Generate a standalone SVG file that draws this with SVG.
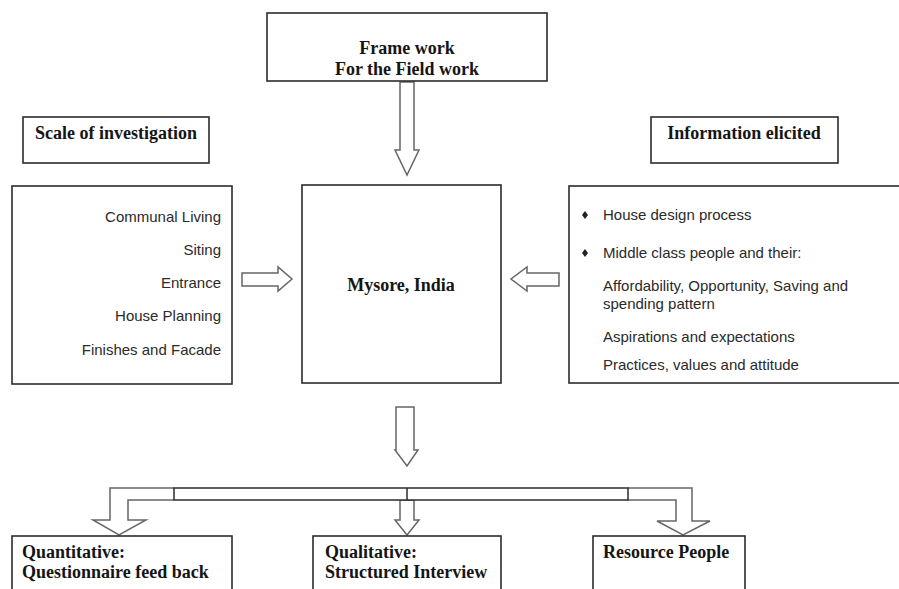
<svg xmlns="http://www.w3.org/2000/svg" width="899" height="589" viewBox="0 0 899 589">
  <style>
    .box { fill: #ffffff; stroke: #2b2b2b; stroke-width: 1.6; }
    .head { font-family: "Liberation Serif", "Times New Roman", serif; font-weight: bold; font-size: 18px; fill: #151515; }
    .item { font-family: "Liberation Sans", Arial, sans-serif; font-size: 15px; fill: #2a2a2a; }
    .arrow { fill: #ffffff; stroke: #666666; stroke-width: 1.5; stroke-linejoin: miter; }
    .bar { fill: #ffffff; stroke: #2b2b2b; stroke-width: 1.5; }
    .bullet { fill: #222222; }
  </style>

  <rect width="899" height="589" fill="#ffffff"/>

  <!-- connectors: hollow block arrows -->
  <g id="connectors">
    <!-- frame work down to Mysore -->
    <path class="arrow" d="M400,82 L414,82 L414,150 L419,150 L407,175 L395,150 L400,150 Z"/>
    <!-- scale of investigation to Mysore -->
    <path class="arrow" d="M242,273 L278,273 L278,267 L292,279 L278,291 L278,286 L242,286 Z"/>
    <!-- information elicited to Mysore -->
    <path class="arrow" d="M559,273 L527,273 L527,267 L511,279 L527,291 L527,286 L559,286 Z"/>
    <!-- Mysore down to distribution bar -->
    <path class="arrow" d="M396,407 L414,407 L414,450 L418,450 L407,466 L395,450 L396,450 Z"/>
    <!-- left branch -->
    <path class="arrow" d="M174,488 L110,488 L110,520 L93,520 L119,535 L146,520 L128,520 L128,500 L174,500"/>
    <!-- middle branch -->
    <path class="arrow" d="M400,500 L414,500 L414,520 L419,520 L407,535 L395,520 L400,520 Z"/>
    <!-- right branch -->
    <path class="arrow" d="M628,488 L692,488 L692,521 L710,521 L683,535 L657,521 L676,521 L676,500 L628,500"/>
    <!-- distribution bar -->
    <rect class="bar" x="174" y="488" width="454" height="12"/>
    <line class="bar" x1="407" y1="488" x2="407" y2="500"/>
  </g>

  <g id="frame">
    <rect class="box" x="267" y="13" width="280" height="68"/>
    <text class="head" x="407" y="54" text-anchor="middle">Frame work</text>
    <text class="head" x="407" y="75" text-anchor="middle">For the Field work</text>
  </g>

  <g id="scale-title">
    <rect class="box" x="23" y="117" width="186" height="46"/>
    <text class="head" x="116" y="139" text-anchor="middle">Scale of investigation</text>
  </g>

  <g id="info-title">
    <rect class="box" x="651" y="117" width="187" height="46"/>
    <text class="head" x="744" y="139" text-anchor="middle">Information elicited</text>
  </g>

  <g id="scale-list">
    <rect class="box" x="12" y="186" width="220" height="198"/>
    <text class="item" x="221" y="222" text-anchor="end">Communal Living</text>
    <text class="item" x="221" y="255" text-anchor="end">Siting</text>
    <text class="item" x="221" y="288" text-anchor="end">Entrance</text>
    <text class="item" x="221" y="321" text-anchor="end">House Planning</text>
    <text class="item" x="221" y="355" text-anchor="end">Finishes and Facade</text>
  </g>

  <g id="mysore">
    <rect class="box" x="302" y="185" width="199" height="198"/>
    <text class="head" x="401" y="291" text-anchor="middle">Mysore, India</text>
  </g>

  <g id="info-list">
    <rect class="box" x="569" y="186" width="340" height="197"/>
    <path class="bullet" d="M585,211 L588,215 L585,219 L582,215 Z"/>
    <text class="item" x="603" y="220">House design process</text>
    <path class="bullet" d="M585,249 L588,253 L585,257 L582,253 Z"/>
    <text class="item" x="603" y="258">Middle class people and their:</text>
    <text class="item" x="603" y="291">Affordability, Opportunity, Saving and</text>
    <text class="item" x="603" y="309">spending pattern</text>
    <text class="item" x="603" y="342">Aspirations and expectations</text>
    <text class="item" x="603" y="370">Practices, values and attitude</text>
  </g>

  <g id="quantitative">
    <rect class="box" x="12" y="536" width="220" height="70"/>
    <text class="head" x="22" y="558">Quantitative:</text>
    <text class="head" x="22" y="578">Questionnaire feed back</text>
  </g>

  <g id="qualitative">
    <rect class="box" x="313" y="536" width="188" height="70"/>
    <text class="head" x="325" y="558">Qualitative:</text>
    <text class="head" x="325" y="578">Structured Interview</text>
  </g>

  <g id="resource">
    <rect class="box" x="593" y="536" width="152" height="70"/>
    <text class="head" x="603" y="558">Resource People</text>
  </g>
</svg>
